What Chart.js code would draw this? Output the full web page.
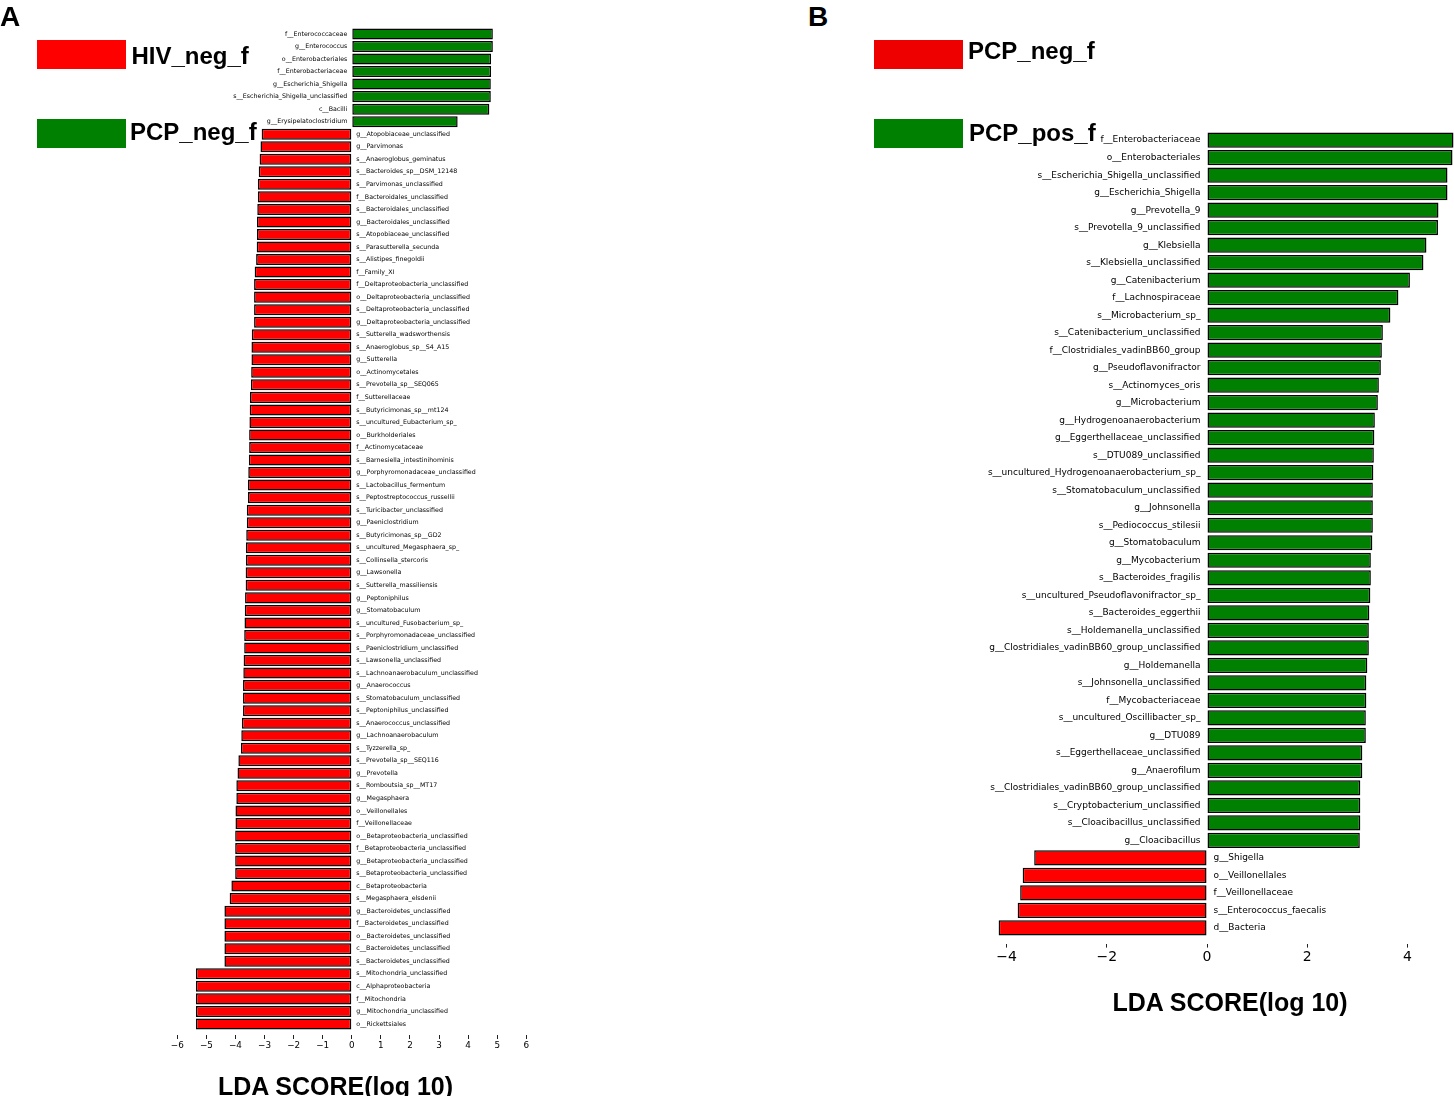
<!DOCTYPE html>
<html>
<head>
<meta charset="utf-8">
<script src="https://cdn.jsdelivr.net/npm/chart.js@4"></script>
<style>
  html, body { margin: 0; padding: 0; background: #fff; overflow: hidden; width: 1454px; height: 1096px; }
  .abs { position: absolute; white-space: nowrap; }
  .panel { font-family: "Liberation Sans", Arial, sans-serif; font-weight: bold; font-size: 28px; line-height: 28px; color: #000; }
  .legtxt { font-family: "Liberation Sans", Arial, sans-serif; font-weight: bold; font-size: 24px; line-height: 24px; color: #000; }
  .axtitle { font-family: "Liberation Sans", Arial, sans-serif; font-weight: bold; font-size: 25px; line-height: 25px; color: #000; transform: translateX(-50%); }
  canvas { position: absolute; }
</style>
</head>
<body>
<script>
// ---------- DATA ----------
const groupsA = ["HIV_neg_f", "PCP_neg_f"];
const groupsB = ["PCP_neg_f", "PCP_pos_f"];

const taxaA = [
  "f__Enterococcaceae", "g__Enterococcus", "o__Enterobacteriales", "f__Enterobacteriaceae",
  "g__Escherichia_Shigella", "s__Escherichia_Shigella_unclassified", "c__Bacilli", "g__Erysipelatoclostridium",
  "g__Atopobiaceae_unclassified", "g__Parvimonas", "s__Anaeroglobus_geminatus", "s__Bacteroides_sp__DSM_12148",
  "s__Parvimonas_unclassified", "f__Bacteroidales_unclassified", "s__Bacteroidales_unclassified", "g__Bacteroidales_unclassified",
  "s__Atopobiaceae_unclassified", "s__Parasutterella_secunda", "s__Alistipes_finegoldii", "f__Family_XI",
  "f__Deltaproteobacteria_unclassified", "o__Deltaproteobacteria_unclassified", "s__Deltaproteobacteria_unclassified", "g__Deltaproteobacteria_unclassified",
  "s__Sutterella_wadsworthensis", "s__Anaeroglobus_sp__S4_A15", "g__Sutterella", "o__Actinomycetales",
  "s__Prevotella_sp__SEQ065", "f__Sutterellaceae", "s__Butyricimonas_sp__mt124", "s__uncultured_Eubacterium_sp_",
  "o__Burkholderiales", "f__Actinomycetaceae", "s__Barnesiella_intestinihominis", "g__Porphyromonadaceae_unclassified",
  "s__Lactobacillus_fermentum", "s__Peptostreptococcus_russellii", "s__Turicibacter_unclassified", "g__Paeniclostridium",
  "s__Butyricimonas_sp__GD2", "s__uncultured_Megasphaera_sp_", "s__Collinsella_stercoris", "g__Lawsonella",
  "s__Sutterella_massiliensis", "g__Peptoniphilus", "g__Stomatobaculum", "s__uncultured_Fusobacterium_sp_",
  "s__Porphyromonadaceae_unclassified", "s__Paeniclostridium_unclassified", "s__Lawsonella_unclassified", "s__Lachnoanaerobaculum_unclassified",
  "g__Anaerococcus", "s__Stomatobaculum_unclassified", "s__Peptoniphilus_unclassified", "s__Anaerococcus_unclassified",
  "g__Lachnoanaerobaculum", "s__Tyzzerella_sp_", "s__Prevotella_sp__SEQ116", "g__Prevotella",
  "s__Romboutsia_sp__MT17", "g__Megasphaera", "o__Veillonellales", "f__Veillonellaceae",
  "o__Betaproteobacteria_unclassified", "f__Betaproteobacteria_unclassified", "g__Betaproteobacteria_unclassified", "s__Betaproteobacteria_unclassified",
  "c__Betaproteobacteria", "s__Megasphaera_elsdenii", "g__Bacteroidetes_unclassified", "f__Bacteroidetes_unclassified",
  "o__Bacteroidetes_unclassified", "c__Bacteroidetes_unclassified", "s__Bacteroidetes_unclassified", "s__Mitochondria_unclassified",
  "c__Alphaproteobacteria", "f__Mitochondria", "g__Mitochondria_unclassified", "o__Rickettsiales"
];
const ldaA = [
  4.85, 4.85, 4.79, 4.79, 4.78, 4.78, 4.73, 3.64,
  -3.10, -3.14, -3.17, -3.20,
  -3.23, -3.23, -3.25, -3.26,
  -3.26, -3.27, -3.29, -3.34,
  -3.36, -3.36, -3.36, -3.36,
  -3.44, -3.45, -3.45, -3.46,
  -3.47, -3.50, -3.51, -3.52,
  -3.53, -3.53, -3.54, -3.56,
  -3.57, -3.57, -3.61, -3.61,
  -3.63, -3.64, -3.64, -3.65,
  -3.65, -3.67, -3.68, -3.69,
  -3.70, -3.70, -3.72, -3.73,
  -3.74, -3.74, -3.74, -3.78,
  -3.80, -3.81, -3.90, -3.93,
  -3.97, -3.97, -4.00, -4.00,
  -4.01, -4.01, -4.01, -4.01,
  -4.14, -4.20, -4.38, -4.38,
  -4.38, -4.38, -4.38, -5.36,
  -5.36, -5.36, -5.36, -5.36
];

const taxaB = [
  "f__Enterobacteriaceae", "o__Enterobacteriales", "s__Escherichia_Shigella_unclassified", "g__Escherichia_Shigella",
  "g__Prevotella_9", "s__Prevotella_9_unclassified", "g__Klebsiella", "s__Klebsiella_unclassified",
  "g__Catenibacterium", "f__Lachnospiraceae", "s__Microbacterium_sp_", "s__Catenibacterium_unclassified",
  "f__Clostridiales_vadinBB60_group", "g__Pseudoflavonifractor", "s__Actinomyces_oris", "g__Microbacterium",
  "g__Hydrogenoanaerobacterium", "g__Eggerthellaceae_unclassified", "s__DTU089_unclassified", "s__uncultured_Hydrogenoanaerobacterium_sp_",
  "s__Stomatobaculum_unclassified", "g__Johnsonella", "s__Pediococcus_stilesii", "g__Stomatobaculum",
  "g__Mycobacterium", "s__Bacteroides_fragilis", "s__uncultured_Pseudoflavonifractor_sp_", "s__Bacteroides_eggerthii",
  "s__Holdemanella_unclassified", "g__Clostridiales_vadinBB60_group_unclassified", "g__Holdemanella", "s__Johnsonella_unclassified",
  "f__Mycobacteriaceae", "s__uncultured_Oscillibacter_sp_", "g__DTU089", "s__Eggerthellaceae_unclassified",
  "g__Anaerofilum", "s__Clostridiales_vadinBB60_group_unclassified", "s__Cryptobacterium_unclassified", "s__Cloacibacillus_unclassified",
  "g__Cloacibacillus", "g__Shigella", "o__Veillonellales", "f__Veillonellaceae",
  "s__Enterococcus_faecalis", "d__Bacteria"
];
const ldaB = [
  4.92, 4.90, 4.80, 4.80,
  4.62, 4.61, 4.38, 4.32,
  4.05, 3.82, 3.66, 3.51,
  3.49, 3.47, 3.43, 3.41,
  3.35, 3.34, 3.33, 3.32,
  3.31, 3.31, 3.31, 3.30,
  3.27, 3.27, 3.26, 3.24,
  3.23, 3.23, 3.20, 3.18,
  3.18, 3.17, 3.17, 3.10,
  3.10, 3.06, 3.06, 3.06,
  3.05, -3.45, -3.68, -3.73,
  -3.78, -4.16
];

const ticksA = { min: -6.2, max: 6.2, step: 1 };
const ticksB = { min: -4.4, max: 4.93, step: 2 };

// ---------- STYLE ----------
const RED = "#ff0000", GREEN = "#008000";

function fmtTick(v) {
  if (Math.abs(v) < 1e-9) return "0";
  return v < 0 ? "\u2212" + Math.abs(v) : String(v);
}

function barLabelPlugin(taxa, values, fontPx, gap) {
  return {
    id: "barLabels",
    afterDatasetsDraw(chart) {
      const ctx = chart.ctx, xs = chart.scales.x, ys = chart.scales.y;
      const x0 = xs.getPixelForValue(0);
      ctx.save();
      ctx.font = fontPx + "px 'DejaVu Sans'";
      ctx.fillStyle = "#000";
      ctx.textBaseline = "middle";
      taxa.forEach((t, i) => {
        const y = ys.getPixelForValue(i);
        if (values[i] >= 0) { ctx.textAlign = "right"; ctx.fillText(t, x0 - gap, y); }
        else { ctx.textAlign = "left"; ctx.fillText(t, x0 + gap, y); }
      });
      ctx.restore();
    }
  };
}

function makeChart(opts) {
  const cv = document.createElement("canvas");
  cv.width = opts.w; cv.height = opts.h;
  cv.style.left = opts.left + "px"; cv.style.top = opts.top + "px";
  cv.style.width = opts.w + "px"; cv.style.height = opts.h + "px";
  document.body.appendChild(cv);
  new Chart(cv, {
    type: "bar",
    data: {
      labels: opts.taxa,
      datasets: [{
        data: opts.values,
        backgroundColor: opts.values.map(v => v >= 0 ? GREEN : RED),
        borderColor: "#000",
        borderWidth: 1.5,
        borderSkipped: false,
        barPercentage: opts.barPct,
        categoryPercentage: 1.0
      }]
    },
    options: {
      indexAxis: "y",
      responsive: false,
      animation: false,
      devicePixelRatio: 1,
      layout: { padding: opts.padding },
      plugins: { legend: { display: false }, tooltip: { enabled: false }, title: { display: false } },
      scales: {
        y: { display: false },
        x: {
          type: "linear",
          min: opts.ticks.min, max: opts.ticks.max,
          afterFit: (s) => { s.height = opts.axisH; },
          border: { display: false },
          grid: {
            drawOnChartArea: false, drawTicks: true,
            tickLength: opts.tickLen, tickColor: "#222", tickWidth: 1,
            tickBorderDash: opts.tickDash
          },
          ticks: {
            stepSize: opts.ticks.step, includeBounds: false,
            padding: opts.tickPad, color: "#000",
            font: { family: "DejaVu Sans", size: opts.tickFont },
            maxRotation: 0,
            callback: (v) => fmtTick(v)
          }
        }
      }
    },
    plugins: [barLabelPlugin(opts.taxa, opts.values, opts.labelFont, opts.labelGap)]
  });
}

// Panel A: zero at x=351.7, 29.07 px/unit, plot rows from y=27.7 to 1030.2
makeChart({
  left: 0, top: 0, w: 560, h: 1096,
  taxa: taxaA, values: ldaA, ticks: ticksA,
  padding: { left: 171.5, right: 27.9, top: 27.7, bottom: 35.8 },
  axisH: 30, tickLen: 9, tickDash: [0, 5, 4, 50], tickPad: 1, tickFont: 8.8,
  barPct: 0.88, labelFont: 6.3, labelGap: 4.5
});

// Panel B: zero at x=1207, 50.1 px/unit, plot rows from y=131.4 to 936.6
makeChart({
  left: 900, top: 0, w: 554, h: 1096,
  taxa: taxaB, values: ldaB, ticks: ticksB,
  padding: { left: 86.6, right: 0, top: 131.4, bottom: 129.4 },
  axisH: 30, tickLen: 11, tickDash: [0, 7, 4, 50], tickPad: 1, tickFont: 14,
  barPct: 0.87, labelFont: 9, labelGap: 6.5
});

// ---------- HTML text: panel letters, legends, axis titles ----------
function addDiv(cls, text, left, top, extra) {
  const d = document.createElement("div");
  d.className = "abs " + cls;
  d.textContent = text;
  d.style.left = left + "px"; d.style.top = top + "px";
  if (extra) Object.assign(d.style, extra);
  document.body.appendChild(d);
  return d;
}
function addBox(color, left, top) {
  const d = document.createElement("div");
  d.className = "abs";
  Object.assign(d.style, { left: left + "px", top: top + "px", width: "89px", height: "29px", background: color });
  document.body.appendChild(d);
}

addDiv("panel", "A", 0, 2.5);
addDiv("panel", "B", 808, 2.5);

addBox(RED, 37, 40);   addDiv("legtxt", groupsA[0], 131.5, 43.7);
addBox(GREEN, 37, 119); addDiv("legtxt", groupsA[1], 130, 119.7);

addBox("#ee0000", 874, 40);  addDiv("legtxt", groupsB[0], 968, 38.5);
addBox(GREEN, 874, 119);     addDiv("legtxt", groupsB[1], 969, 120.5);

addDiv("axtitle", "LDA SCORE(log 10)", 335.5, 1073.5);
addDiv("axtitle", "LDA SCORE(log 10)", 1230, 989.5);
</script>
</body>
</html>
